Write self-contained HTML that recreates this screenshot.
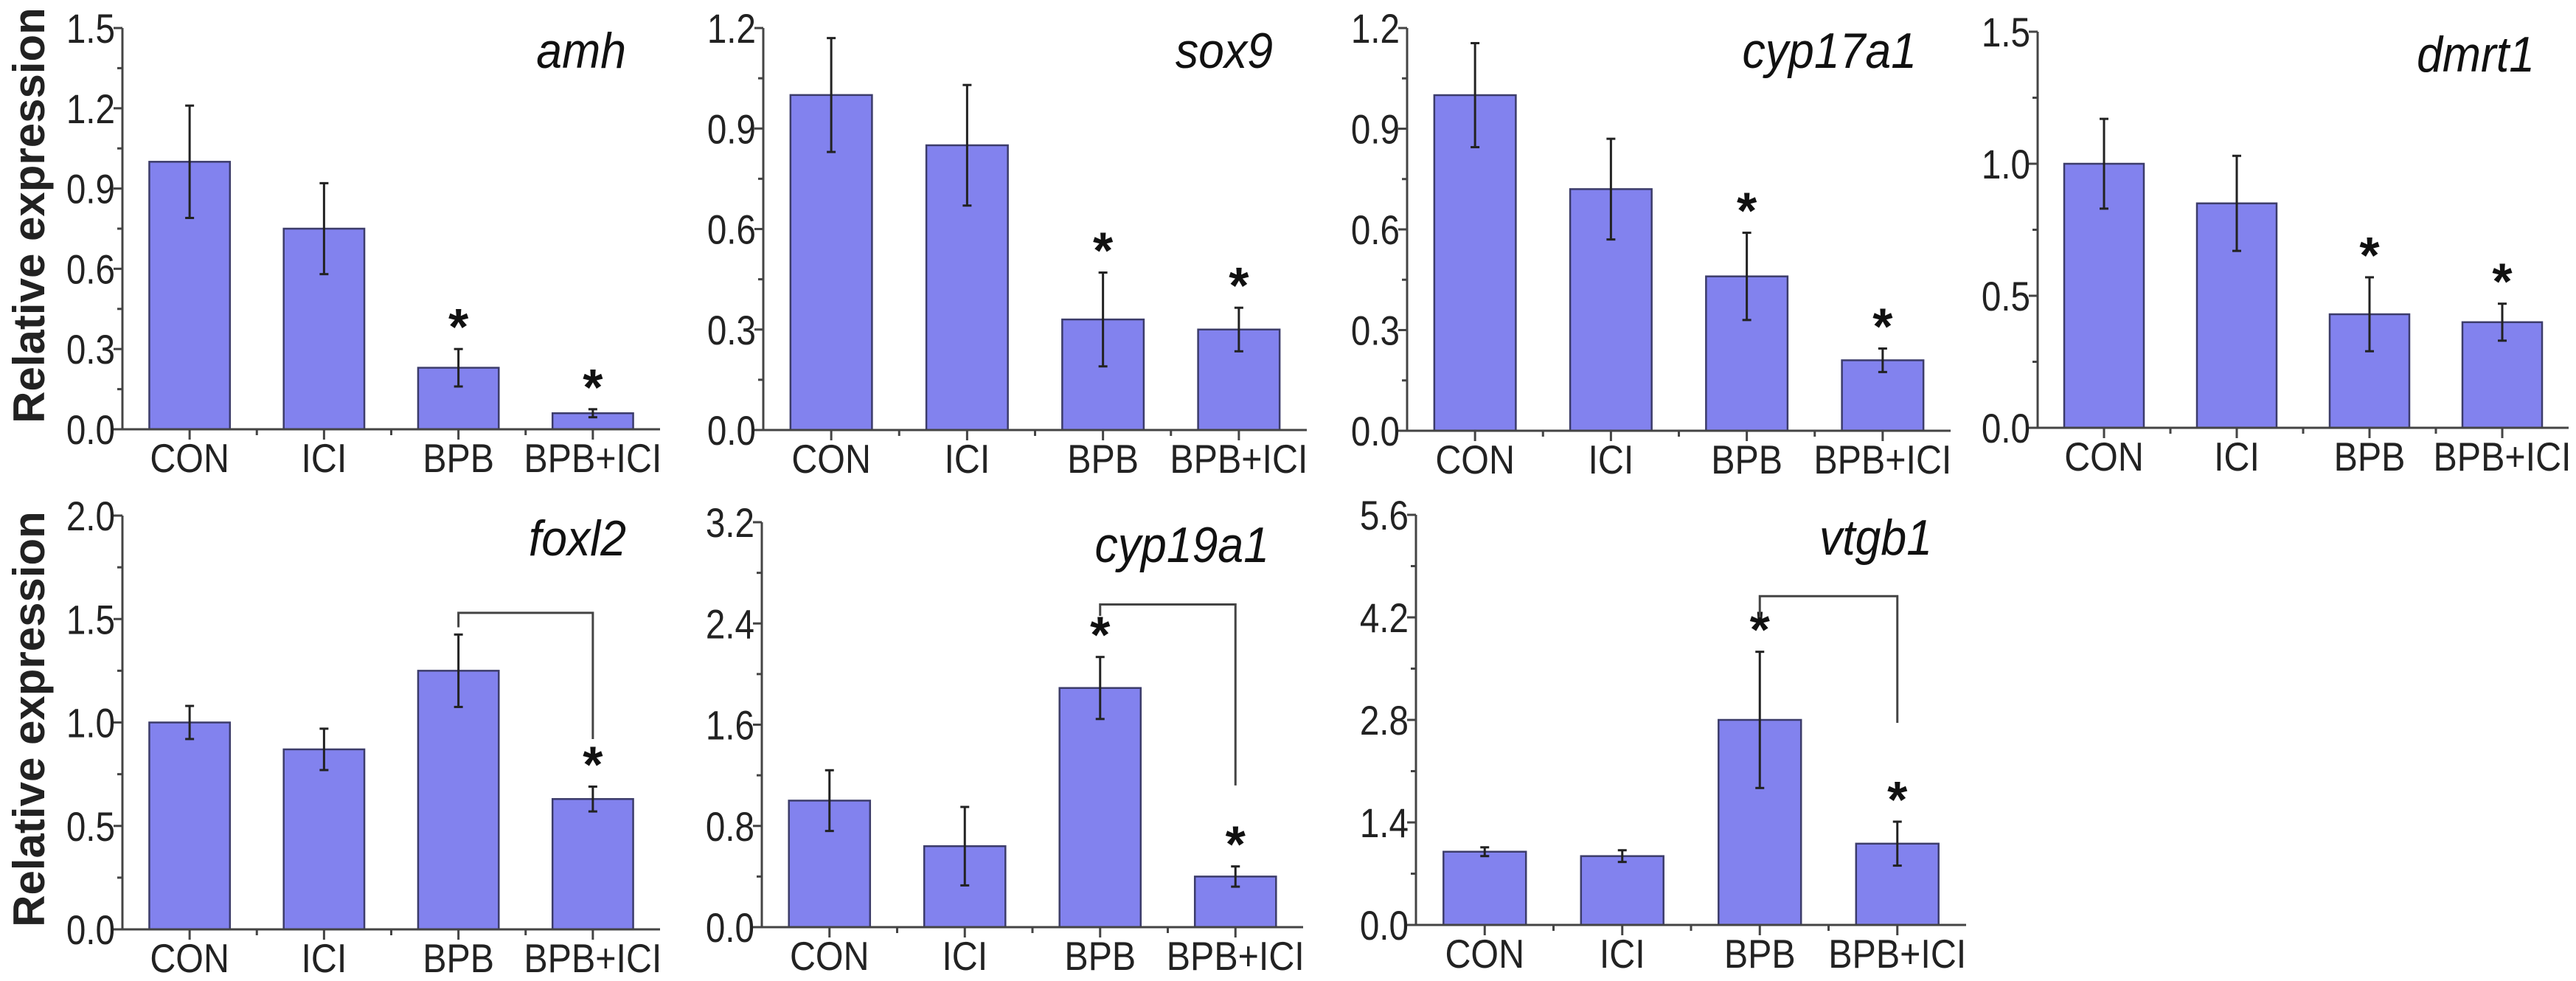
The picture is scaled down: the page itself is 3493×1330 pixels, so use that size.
<!DOCTYPE html>
<html><head><meta charset="utf-8">
<style>
html,body{margin:0;padding:0;background:#fff;}
svg{display:block;}
text{font-family:"Liberation Sans",sans-serif;}
</style></head>
<body>
<svg id="fig" width="3493" height="1330" viewBox="0 0 3493 1330" xmlns="http://www.w3.org/2000/svg">
<text x="0" y="0" transform="translate(60,292) rotate(-90)" text-anchor="middle" font-size="60" font-weight="bold" fill="#222">Relative expression</text>
<text x="0" y="0" transform="translate(60,975) rotate(-90)" text-anchor="middle" font-size="60" font-weight="bold" fill="#222">Relative expression</text>
</svg>
<script>
const categories = ["CON","ICI","BPB","BPB+ICI"];
const genes = ["amh","sox9","cyp17a1","dmrt1","foxl2","cyp19a1","vtgb1"];
const yMaxes = [1.5,1.2,1.2,1.5,2.0,3.2,5.6];
const yTickSteps = [0.3,0.3,0.3,0.5,0.5,0.8,1.4];
const yTickDecimals = [1,1,1,1,1,1,1];
const amhValues = [1.0,0.75,0.23,0.06];
const amhErrors = [0.21,0.17,0.07,0.015];
const sox9Values = [1.0,0.85,0.33,0.30];
const sox9Errors = [0.17,0.18,0.14,0.065];
const cyp17a1Values = [1.0,0.72,0.46,0.21];
const cyp17a1Errors = [0.155,0.15,0.13,0.035];
const dmrt1Values = [1.0,0.85,0.43,0.40];
const dmrt1Errors = [0.17,0.18,0.14,0.07];
const foxl2Values = [1.0,0.87,1.25,0.63];
const foxl2Errors = [0.08,0.10,0.175,0.06];
const cyp19a1Values = [1.0,0.64,1.89,0.40];
const cyp19a1Errors = [0.24,0.31,0.245,0.08];
const vtgb1Values = [1.0,0.94,2.8,1.11];
const vtgb1Errors = [0.06,0.08,0.93,0.30];
const allValues = [amhValues,sox9Values,cyp17a1Values,dmrt1Values,foxl2Values,cyp19a1Values,vtgb1Values];
const allErrors = [amhErrors,sox9Errors,cyp17a1Errors,dmrt1Errors,foxl2Errors,cyp19a1Errors,vtgb1Errors];
const starFlags = [[0,0,1,1],[0,0,1,1],[0,0,1,1],[0,0,1,1],[0,0,0,1],[0,0,1,1],[0,0,1,1]];
// bracket: [top value, left-leg end value, right-leg end value] or null
const brackets = [null,null,null,null,[1.53,1.46,0.92],[2.55,2.46,1.12],[4.49,4.2,2.76]];

// layout (not data)
const layout = [
 {x0:166,x1:895,top:38,zero:582},
 {x0:1035,x1:1772,top:38,zero:583},
 {x0:1908,x1:2645,top:38,zero:584},
 {x0:2763,x1:3483,top:43,zero:580},
 {x0:166,x1:895,top:699,zero:1260},
 {x0:1033,x1:1767,top:708,zero:1257},
 {x0:1920,x1:2666,top:698,zero:1254}
];

const NS="http://www.w3.org/2000/svg";
const svg=document.getElementById('fig');
function mk(tag,attrs,parent){const e=document.createElementNS(NS,tag);for(const k in attrs)e.setAttribute(k,attrs[k]);(parent||svg).appendChild(e);return e;}
function ntext(x,y,sx,attrs,parent){return mk('text',Object.assign({x:0,y:0,transform:`translate(${x},${y}) scale(${sx},1)`},attrs),parent);}

genes.forEach((g,pi)=>{
  const L=layout[pi];
  const grp=mk('g',{});
  
  
  const ymax=yMaxes[pi];
  const yS=v=>L.zero-(v/ymax)*(L.zero-L.top);
  const band=(L.x1-L.x0)/categories.length;
  const xC=i=>L.x0+band*(i+0.5);
  const bw=band*0.6;
  const vals=allValues[pi], errs=allErrors[pi];
  vals.forEach((v,i)=>{
    const r=mk('rect',{x:xC(i)-bw/2,y:yS(v),width:bw,height:L.zero-yS(v),fill:'#8282ee',stroke:'#3c3c6a','stroke-width':2.5},grp);
    
    
  });
  vals.forEach((v,i)=>{
    const e=errs[i];
    const eg=mk('g',{stroke:'#222','stroke-width':3},grp);
    
    
    mk('line',{x1:xC(i),x2:xC(i),y1:yS(v+e),y2:yS(v-e)},eg);
    mk('line',{x1:xC(i)-6,x2:xC(i)+6,y1:yS(v+e),y2:yS(v+e)},eg);
    mk('line',{x1:xC(i)-6,x2:xC(i)+6,y1:yS(v-e),y2:yS(v-e)},eg);
    if(starFlags[pi][i]){
      const s=mk('text',{x:xC(i),y:yS(v+e)-6,'text-anchor':'middle','font-size':70,'font-weight':'bold',fill:'#111'},grp);
      
      
      s.textContent='*';
    }
  });
  const b=brackets[pi];
  if(b){
    const p=mk('polyline',{points:`${xC(2)},${yS(b[1])} ${xC(2)},${yS(b[0])} ${xC(3)},${yS(b[0])} ${xC(3)},${yS(b[2])}`,fill:'none',stroke:'#444','stroke-width':3},grp);
    
    
  }
  const ax=mk('g',{stroke:'#444','stroke-width':3},grp);
  
  
  mk('line',{x1:L.x0,x2:L.x0,y1:L.top,y2:L.zero},ax);
  mk('line',{x1:L.x0,x2:L.x1,y1:L.zero,y2:L.zero},ax);
  const step=yTickSteps[pi];
  const n=Math.round(ymax/step);
  for(let k=0;k<=n;k++){
    const v=k*step, y=yS(v);
    mk('line',{x1:L.x0-12,x2:L.x0,y1:y,y2:y},ax);
    if(k<n){const ym=yS(v+step/2);mk('line',{x1:L.x0-7,x2:L.x0,y1:ym,y2:ym},ax);}
    const t=ntext(L.x0-10,y+20,0.85,{'text-anchor':'end','font-size':56,fill:'#222'},grp);
    
    
    t.textContent=v.toFixed(yTickDecimals[pi]);
  }
  categories.forEach((c,i)=>{
    mk('line',{x1:xC(i),x2:xC(i),y1:L.zero,y2:L.zero+14},ax);
    if(i>0) mk('line',{x1:L.x0+band*i,x2:L.x0+band*i,y1:L.zero,y2:L.zero+8},ax);
    const t=ntext(xC(i),L.zero+58,0.88,{'text-anchor':'middle','font-size':55,fill:'#222'},grp);
    
    
    t.textContent=c;
  });
  const tt=ntext(L.x1-46,L.top+54,0.92,{'text-anchor':'end','font-size':68,'font-style':'italic',fill:'#111'},grp);
  
  
  tt.textContent=g;
});
</script>
</body></html>
